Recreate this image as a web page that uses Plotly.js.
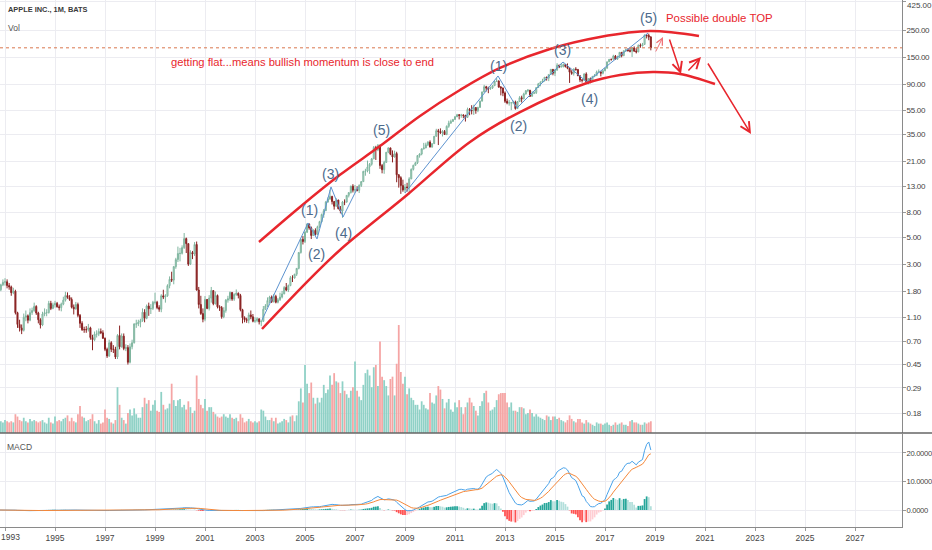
<!DOCTYPE html>
<html><head><meta charset="utf-8">
<script src="https://cdn.plot.ly/plotly-3.0.1.min.js"></script>
<style>
html,body{margin:0;padding:0;background:#fff}#chart{width:932px;height:550px}
#chart .y2tick text,#chart .y3tick text{letter-spacing:-0.3px}
</style>
</head><body><div id="chart"></div>
<script>
// ---------- DATA (monthly, split-adjusted, first bar = Oct 1992) ----------
const startYear = 1992, startMonth = 10;
const firstOpen = 1.70;
const closes = [
1.85,2.03,2.13,
2.15,2.00,1.95,1.75,1.80,1.20,0.96,0.90,0.86,1.10,1.13,1.04,
1.20,1.25,1.35,1.19,1.05,0.95,1.17,1.20,1.20,1.43,1.30,1.39,
1.43,1.34,1.32,1.41,1.52,1.66,1.60,1.54,1.33,1.29,1.40,1.14,
0.98,0.87,0.87,0.87,0.90,0.75,0.72,0.80,0.80,0.84,0.82,0.74,
0.60,0.53,0.68,0.60,0.60,0.52,0.78,0.63,0.77,0.61,0.62,0.47,
0.63,0.68,0.97,0.97,1.00,1.03,1.21,1.08,1.36,1.29,1.30,1.46,
1.46,1.32,1.28,1.65,1.61,1.65,2.00,2.25,2.22,2.86,3.27,3.67,
3.68,4.10,4.86,4.42,3.00,3.74,3.63,4.35,1.84,1.40,1.18,1.06,
1.54,1.30,1.58,1.82,1.42,1.66,1.34,1.32,1.11,1.25,1.52,1.56,
1.76,1.55,1.69,1.73,1.66,1.27,1.09,1.05,1.04,1.15,1.11,1.02,
1.03,1.07,1.01,1.02,1.28,1.36,1.51,1.61,1.48,1.63,1.46,1.53,
1.61,1.71,1.93,1.84,2.00,2.32,2.31,2.48,2.77,3.74,4.79,4.60,
5.49,6.41,5.95,5.15,5.68,5.26,6.09,6.70,7.66,8.23,9.69,10.27,
10.79,9.78,8.96,10.06,8.54,8.18,9.71,9.69,11.00,11.58,13.09,12.12,
12.25,12.09,13.27,14.26,17.31,17.43,18.82,19.78,21.92,27.14,26.03,28.30,
19.34,17.86,20.50,24.85,26.96,23.92,22.71,24.22,16.24,15.37,13.24,12.19,
12.88,12.76,15.02,17.98,19.40,20.35,23.34,24.03,26.48,26.93,28.56,30.10,
27.44,29.23,33.57,37.30,36.70,35.93,36.75,34.73,40.54,43.00,44.45,46.08,
48.47,50.46,49.79,50.02,49.69,47.95,55.78,54.98,54.47,57.83,54.60,57.86,
65.21,77.49,85.65,83.43,82.53,83.43,87.25,95.03,95.30,85.05,83.61,76.02,
65.07,63.06,63.24,63.25,64.25,56.65,64.65,69.60,68.11,74.67,79.44,80.15,
71.51,75.18,76.68,84.30,90.43,92.93,95.60,102.50,100.75,108.00,118.93,110.38,
117.16,128.46,124.43,125.15,130.28,125.43,121.30,112.76,110.30,119.50,118.30,105.26,
97.34,96.69,108.99,93.74,99.86,95.60,104.21,106.10,113.05,113.54,110.52,115.82,
121.35,136.99,143.66,143.65,152.76,144.02,148.73,164.00,154.12,169.04,171.85,169.23,
167.43,178.12,167.78,165.26,186.87,185.11,190.29,227.63,225.74,218.86,178.58
];
const highs = [
1.90,2.07,2.25,
2.30,2.25,2.10,2.00,1.92,1.85,1.22,1.05,0.96,1.18,1.25,1.16,
1.30,1.32,1.45,1.38,1.22,1.08,1.22,1.30,1.28,1.50,1.50,1.45,
1.50,1.47,1.40,1.45,1.62,1.78,1.76,1.67,1.60,1.40,1.47,1.45,
1.17,1.02,0.92,0.93,0.97,0.92,0.79,0.84,0.86,0.89,0.89,0.86,
0.75,0.62,0.72,0.70,0.65,0.63,0.80,0.94,0.81,0.81,0.66,0.65,
0.67,0.72,0.98,1.05,1.05,1.07,1.30,1.28,1.40,1.45,1.41,1.50,
1.75,1.50,1.38,1.70,1.85,1.70,2.05,2.38,2.60,2.90,3.38,4.18,
4.08,4.28,5.40,4.95,4.44,3.90,3.85,4.55,4.60,1.95,1.65,1.30,
1.64,1.55,1.67,1.95,1.84,1.79,1.69,1.38,1.36,1.33,1.55,1.65,
1.79,1.76,1.73,1.86,1.76,1.71,1.29,1.12,1.09,1.20,1.25,1.17,
1.10,1.10,1.07,1.04,1.36,1.41,1.60,1.65,1.66,1.71,1.68,1.58,
1.75,1.81,1.98,2.10,2.04,2.40,2.43,2.50,2.78,3.75,4.83,5.10,
5.60,6.45,6.45,6.10,5.80,5.90,6.20,6.80,7.80,8.50,9.90,10.60,
12.22,10.90,9.90,10.42,10.14,8.99,9.90,10.20,11.07,11.72,13.20,13.59,
13.38,13.07,13.55,14.43,17.50,18.18,21.21,20.26,22.30,27.95,28.03,29.00,
28.64,19.91,21.15,24.86,27.21,27.08,25.73,25.59,25.06,16.37,15.79,14.80,
13.63,13.95,15.50,18.30,19.63,20.74,23.48,24.35,26.63,29.64,29.76,30.60,
31.10,29.45,33.82,38.68,38.59,39.00,37.75,37.80,41.20,45.07,45.99,46.67,
49.29,51.29,51.03,51.30,50.99,50.49,57.65,57.30,60.41,60.96,57.86,58.63,
65.81,78.20,88.77,87.09,85.64,85.70,88.16,95.34,100.72,96.52,86.70,84.24,
78.29,68.40,66.55,63.80,65.80,65.86,64.68,71.68,72.27,76.40,80.35,82.00,
80.60,78.74,78.43,84.87,92.02,95.05,99.44,102.90,103.74,108.04,119.75,119.25,
120.00,133.60,130.03,134.54,132.97,130.63,132.97,122.57,116.89,121.22,123.82,119.86,
105.85,98.89,110.42,112.39,100.73,101.89,104.55,108.94,116.18,118.69,114.20,118.02,
122.44,137.48,144.50,144.90,156.65,155.98,153.99,164.94,164.52,169.65,176.24,177.20,
180.10,180.62,183.50,177.30,190.37,193.94,196.01,228.87,229.67,233.47,222.88
];
const lows = [
1.62,1.80,1.98,
2.00,1.90,1.85,1.65,1.70,1.16,0.90,0.84,0.80,0.84,1.02,0.98,
1.02,1.15,1.22,1.15,0.98,0.89,0.93,1.12,1.12,1.18,1.26,1.28,
1.32,1.32,1.25,1.23,1.38,1.48,1.56,1.50,1.30,1.16,1.27,1.10,
0.90,0.85,0.82,0.82,0.84,0.72,0.59,0.70,0.75,0.77,0.80,0.73,
0.58,0.51,0.52,0.57,0.56,0.50,0.50,0.60,0.62,0.59,0.58,0.45,
0.46,0.60,0.67,0.90,0.93,0.91,1.01,1.00,1.06,1.13,1.17,1.26,
1.40,1.28,1.22,1.21,1.55,1.45,1.62,1.90,2.14,2.05,2.75,3.12,
3.16,3.60,4.00,3.70,2.90,2.95,3.30,3.50,1.82,1.30,1.15,1.00,
1.02,1.28,1.25,1.45,1.38,1.40,1.30,1.24,1.07,1.08,1.20,1.45,
1.50,1.50,1.50,1.65,1.57,1.23,0.98,1.00,0.99,0.98,1.06,1.00,
0.99,1.00,0.96,0.93,1.01,1.26,1.33,1.44,1.44,1.45,1.43,1.43,
1.50,1.57,1.70,1.80,1.77,1.98,2.14,2.28,2.40,2.72,3.66,4.35,
4.47,5.40,5.75,4.82,5.10,5.15,5.25,5.94,6.60,7.20,8.20,9.60,
10.10,9.26,8.40,8.90,8.45,7.83,7.20,9.14,9.57,10.58,11.40,11.62,
11.53,11.85,11.50,12.89,14.20,15.94,17.00,16.50,19.29,21.87,21.47,25.36,
18.15,16.68,16.53,20.40,24.40,23.50,20.51,22.47,14.10,12.73,11.31,11.78,
11.50,11.80,11.17,14.93,17.60,19.34,19.86,22.42,23.45,26.19,26.86,27.91,
27.18,27.03,29.10,33.40,28.46,35.12,33.45,34.40,34.30,39.43,42.61,44.29,
46.00,48.30,46.18,47.64,47.31,44.36,47.50,50.00,50.79,50.27,51.40,52.95,
57.80,65.00,77.01,78.31,75.78,80.61,82.07,86.90,94.01,84.03,72.71,71.60,
63.07,61.47,59.92,55.01,61.47,55.55,56.30,64.48,63.58,67.50,73.95,77.17,
70.51,71.00,74.81,74.66,83.91,86.30,92.57,94.65,96.14,95.18,107.72,106.26,
104.63,116.08,121.63,123.36,123.36,123.10,119.20,92.00,107.31,105.65,116.06,105.00,
93.42,92.59,96.40,92.51,89.47,91.50,93.80,102.53,104.60,112.28,104.08,108.11,
114.76,120.80,136.50,140.06,143.20,142.20,142.41,148.41,149.16,152.46,165.28,166.46,
163.90,150.24,164.94,160.63,164.40,178.71,183.42,189.00,213.18,206.09,170.26
];
// volume, billions of shares (split-adjusted)
const volumes = [
0.85,1.0,0.9,
1.1,1.0,0.9,1.0,0.9,1.6,1.4,1.1,1.0,1.3,1.0,0.9,
1.2,1.0,1.1,1.0,0.9,1.0,1.1,0.9,0.8,1.3,0.9,0.8,
1.4,1.0,1.1,1.0,1.2,1.3,1.5,1.0,1.3,1.0,0.9,1.6,
2.3,1.4,1.3,1.0,1.1,1.2,1.6,1.0,0.8,1.1,0.8,0.9,
2.0,1.3,1.2,0.9,0.8,1.1,3.9,2.4,1.3,1.1,0.8,1.7,
2.0,1.5,2.1,1.6,1.3,1.3,2.2,3.0,2.5,2.8,1.9,2.4,
2.8,1.9,1.8,3.5,2.4,2.0,2.1,2.5,4.2,2.8,2.3,2.8,
2.9,2.2,2.4,2.0,2.7,2.2,1.7,1.9,4.9,2.9,2.4,2.1,
2.9,1.9,2.2,2.2,1.8,1.6,1.4,1.3,1.4,1.6,1.4,1.3,
1.6,1.3,1.2,1.3,1.0,1.6,1.3,0.9,1.0,1.2,1.0,0.9,
1.0,0.9,1.0,2.0,1.9,1.4,1.1,1.1,1.3,1.0,1.3,0.8,
0.9,1.0,1.2,1.1,0.9,1.4,1.5,1.0,1.5,2.7,3.8,2.6,
5.8,4.2,3.4,4.3,3.0,2.5,3.0,2.6,3.0,4.1,3.4,3.7,
4.9,4.1,5.1,4.4,4.3,3.4,4.4,3.6,3.3,3.0,3.6,3.9,
6.1,3.6,3.1,2.8,4.1,5.1,5.4,4.9,3.9,5.6,5.8,4.0,
7.8,4.8,4.5,4.0,3.2,4.6,4.8,3.2,5.9,9.2,5.2,4.2,
4.8,3.3,3.8,3.0,2.8,2.4,2.4,2.0,2.7,2.4,2.1,2.0,
3.4,2.6,2.5,3.2,4.0,3.7,2.9,2.1,2.6,2.9,2.0,1.8,
2.6,2.2,2.8,2.2,1.6,2.2,2.6,3.0,2.6,2.3,1.9,1.5,
2.3,2.7,3.4,3.6,2.6,1.9,2.0,2.2,2.8,3.3,3.4,3.4,
3.4,2.6,2.2,2.6,1.9,1.9,1.8,2.2,2.2,2.1,1.6,1.7,
2.0,1.7,1.4,1.6,1.4,1.3,1.2,1.1,1.5,1.4,1.1,1.4,
1.4,1.2,1.3,1.1,1.0,0.9,1.1,1.5,1.2,1.0,0.9,1.2,
1.2,0.9,0.8,1.1,0.9,0.8,0.7,0.6,0.9,0.8,0.8,0.7,
0.8,0.9,0.7,0.6,0.7,0.9,0.7,0.8,0.9,0.7,0.7,0.6,
1.0,1.1,0.9,0.9,0.8,0.7,0.7,0.9,0.8,0.9,1.0
];
const priceTicks = [0.18,0.29,0.45,0.70,1.10,1.80,3,5,8,13,21,35,55,90,150,250,425];
const macdTicks = [0,10,20];
const yearTicks = [1993,1995,1997,1999,2001,2003,2005,2007,2009,2011,2013,2015,2017,2019,2021,2023,2025,2027];

// ---------- DRAWINGS (year, price) ----------
const channelUpper = [[2003.16,4.56],[2004.8,8.83],[2006.4,16.2],[2008.0,27.9],[2009.6,49.3],[2011.2,80.5],[2012.8,122],[2014.8,174.7],[2016.8,219],[2018.8,245],[2020.76,223]];
const channelLower = [[2003.28,0.881],[2005.2,2.27],[2006.4,3.92],[2009.08,11.08],[2011.6,30.2],[2013.6,53.1],[2016.28,91.9],[2017.6,106.9],[2018.92,113.1],[2020.0,109],[2021.4,90.2]];
const waveA = [[2003.28,1.045],[2005.12,6.53],[2005.48,4.83],[2006.04,12.9],[2006.52,7.31],[2007.12,12.9]];
const waveB = [[2009.0,11.5],[2012.72,104.9],[2013.48,57.3],[2015.32,136.6],[2016.28,93.6],[2018.72,236]];
const waveLabels = [
 ['(1)',2005.16,8.35],['(2)',2005.44,3.63],['(3)',2006.0,16.5],['(4)',2006.52,5.40],['(5)',2008.04,37.8],
 ['(1)',2012.72,126.7],['(2)',2013.52,40.8],['(3)',2015.28,171.3],['(4)',2016.36,67.9],['(5)',2018.72,313.6]
];
const arrows = [ // [tailYear, tailPrice, headYear, headPrice, width]
 [2019.0,162,2019.32,219,1],
 [2019.56,215,2020.04,109,1.5],
 [2020.28,113,2020.84,150,1.5],
 [2021.08,136.6,2022.84,35.1,1.5]
];
const notes = [
 ['getting flat...means bullish momentum is close to end',2004.88,136.6,11.2],
 ['Possible double TOP',2021.56,313.6,11.4]
];

// ---------- BUILD ----------
const x = closes.map((_, i) => startYear + (startMonth - 1 + i) / 12);
const opens = closes.map((c, i) => i === 0 ? firstOpen : closes[i - 1]);
const upDown = closes.map((c, i) => c >= opens[i]);

function ema(arr, n) {
  const k = 2 / (n + 1); const out = []; let prev = arr[0];
  arr.forEach((v, i) => { prev = i === 0 ? v : v * k + prev * (1 - k); out.push(prev); });
  return out;
}
const e12 = ema(closes, 12), e26 = ema(closes, 26);
const macd = e12.map((v, i) => v - e26[i]);
const signal = ema(macd, 9);
const hist = macd.map((v, i) => v - signal[i]);
const histColors = hist.map((h, i) => {
  const p = i ? hist[i - 1] : h;
  if (h >= 0) return h > p ? '#26a69a' : '#b2dfdb';
  return h < p ? '#ff5252' : '#ffcdd2';
});

const FONT = 'Liberation Sans, Arial, sans-serif';
const RED = '#e8262d';
const GRID = '#ececf1';
const lastClose = closes[closes.length - 1];
const topTick = priceTicks[priceTicks.length - 1];
const firstYear = yearTicks[0];

const traces = [
  { type:'bar', x:x, y:volumes, xaxis:'x', yaxis:'y', width:1/12*0.85,
    marker:{color: upDown.map(u => u ? '#8fd1c6' : '#f5a5a4'), line:{width:0}}, hoverinfo:'skip' },
  { type:'candlestick', x:x, open:opens, high:highs, low:lows, close:closes, xaxis:'x', yaxis:'y2',
    increasing:{line:{color:'#7fb59f', width:1}, fillcolor:'#c2e4d6'},
    decreasing:{line:{color:'#8a2222', width:1}, fillcolor:'#8a2222'},
    whiskerwidth:0, hoverinfo:'skip' },
  { type:'scatter', mode:'lines', x:waveA.map(p=>p[0]), y:waveA.map(p=>p[1]), xaxis:'x', yaxis:'y2',
    line:{color:'#5d93cf', width:1}, hoverinfo:'skip' },
  { type:'scatter', mode:'lines', x:waveB.map(p=>p[0]), y:waveB.map(p=>p[1]), xaxis:'x', yaxis:'y2',
    line:{color:'#5d93cf', width:1}, hoverinfo:'skip' },
  { type:'scatter', mode:'lines', x:channelUpper.map(p=>p[0]), y:channelUpper.map(p=>p[1]), xaxis:'x', yaxis:'y2',
    line:{color:RED, width:2.5, shape:'spline', smoothing:1}, hoverinfo:'skip' },
  { type:'scatter', mode:'lines', x:channelLower.map(p=>p[0]), y:channelLower.map(p=>p[1]), xaxis:'x', yaxis:'y2',
    line:{color:RED, width:2.5, shape:'spline', smoothing:1}, hoverinfo:'skip' },
  { type:'bar', x:x, y:hist, xaxis:'x', yaxis:'y3', width:1/12*0.85,
    marker:{color:histColors, line:{width:0}}, hoverinfo:'skip' },
  { type:'scatter', mode:'lines', x:x, y:macd, xaxis:'x', yaxis:'y3', line:{color:'#4aa3ea', width:1}, hoverinfo:'skip' },
  { type:'scatter', mode:'lines', x:x, y:signal, xaxis:'x', yaxis:'y3', line:{color:'#f5883a', width:1}, hoverinfo:'skip' }
];

const L = Math.log10;
const annotations = [];
annotations.push({xref:'paper', yref:'paper', x:6/902, y:1-10/527, xanchor:'left', yanchor:'middle', showarrow:false,
  text:'<b>APPLE INC., 1M, BATS</b>', font:{family:FONT, size:7.4, color:'#3a3a3a'}});
annotations.push({xref:'paper', yref:'paper', x:6/902, y:1-28/527, xanchor:'left', yanchor:'middle', showarrow:false,
  text:'Vol', font:{family:FONT, size:8.5, color:'#555'}});
annotations.push({xref:'paper', yref:'paper', x:5/902, y:1-447/527, xanchor:'left', yanchor:'middle', showarrow:false,
  text:'MACD', font:{family:FONT, size:8.5, color:'#555'}});
// edge tick labels kept inside the picture
annotations.push({xref:'paper', yref:'paper', x:906/902, y:1, xanchor:'left', yanchor:'top', showarrow:false,
  text:topTick.toFixed(2), font:{family:FONT, size:8, color:'#444'}, borderpad:0});
annotations.push({xref:'paper', yref:'paper', x:0, y:-4/527, xanchor:'left', yanchor:'top', showarrow:false,
  text:String(firstYear), font:{family:FONT, size:8.5, color:'#444'}, borderpad:0});
waveLabels.forEach(w => annotations.push({xref:'x', yref:'y2', x:w[1], y:L(w[2]), showarrow:false, text:w[0],
  xanchor:'center', yanchor:'middle', font:{family:FONT, size:14, color:'#4d6b8c'}}));
notes.forEach(n => annotations.push({xref:'x', yref:'y2', x:n[1], y:L(n[2]), showarrow:false, text:n[0],
  xanchor:'center', yanchor:'middle', font:{family:FONT, size:n[3], color:RED}}));
arrows.forEach(a => annotations.push({xref:'x', yref:'y2', axref:'x', ayref:'y2', x:a[2], y:L(a[3]), ax:a[0], ay:L(a[1]),
  showarrow:true, arrowhead:5, arrowsize:1.3, arrowwidth:a[4], arrowcolor: a[4] < 1.2 ? 'rgba(232,38,45,0.65)' : RED, text:''}));

const tickFont = {family:FONT, size:8, color:'#444'};
const layout = {
  width:932, height:550, margin:{l:0, r:30, t:0, b:23},
  paper_bgcolor:'#ffffff', plot_bgcolor:'#ffffff', showlegend:false, hovermode:false, barmode:'overlay',
  xaxis:{range:[1992.8, 2028.88], tickvals:yearTicks, ticktext:yearTicks.map(v => v === firstYear ? '' : String(v)),
    showgrid:true, gridcolor:GRID,
    ticks:'outside', ticklen:3, tickcolor:'#999', showline:true, linecolor:'#8a8a8a', linewidth:1, zeroline:false,
    tickfont:{family:FONT, size:8.5, color:'#444'}, anchor:'y3', rangeslider:{visible:false}, fixedrange:true},
  yaxis:{domain:[0.1784, 1], range:[0, 36.9], visible:false, fixedrange:true, anchor:'x'},
  yaxis2:{overlaying:'y', type:'log', range:[-0.908, 2.6441], side:'right', anchor:'x',
    tickvals:priceTicks, ticktext:priceTicks.map(v => v === topTick ? '' : v.toFixed(2)), showgrid:true, gridcolor:GRID,
    ticks:'outside', ticklen:3, tickcolor:'#999', showline:true, linecolor:'#8a8a8a', zeroline:false,
    tickfont:tickFont, ticklabelstandoff:-1, fixedrange:true},
  yaxis3:{domain:[0, 0.1765], range:[-5.96, 26.67], side:'right', anchor:'x',
    tickvals:macdTicks, ticktext:macdTicks.map(v => v.toFixed(4)), showgrid:true, gridcolor:GRID,
    ticks:'outside', ticklen:3, tickcolor:'#999', showline:true, linecolor:'#8a8a8a', zeroline:false,
    tickfont:{family:FONT, size:7.6, color:'#444'}, ticklabelstandoff:-1, fixedrange:true},
  shapes:[
    {type:'line', xref:'paper', yref:'paper', x0:0, x1:932/902, y0:0.1784, y1:0.1784, line:{color:'#666', width:1.5}},
    {type:'line', xref:'paper', yref:'y2', x0:0, x1:1, y0:lastClose, y1:lastClose,
     line:{color:'#d9774e', width:1, dash:'dot'}}
  ],
  annotations:annotations
};
Plotly.newPlot('chart', traces, layout, {displayModeBar:false, staticPlot:true});
</script></body></html>
